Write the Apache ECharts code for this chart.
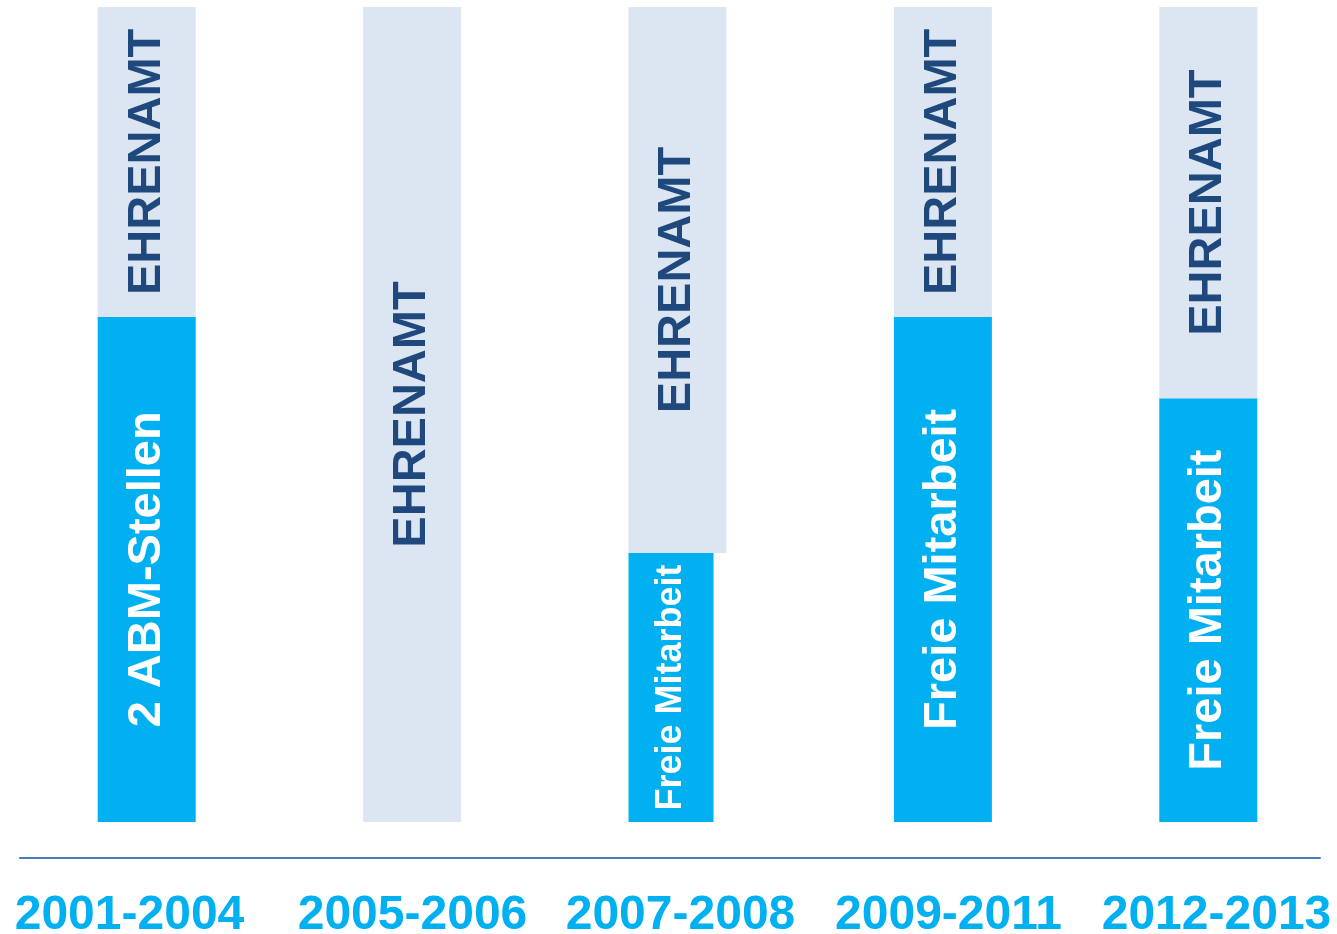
<!DOCTYPE html>
<html>
<head>
<meta charset="utf-8">
<script src="https://cdn.jsdelivr.net/npm/echarts@6/dist/echarts.min.js"></script>
<style>
  html, body { margin: 0; padding: 0; background: #fff; }
  #chart { width: 1337px; height: 934px; }
</style>
</head>
<body>
<div id="chart"></div>
<script>
// Zeiträume
const categories = ["2001-2004", "2005-2006", "2007-2008", "2009-2011", "2012-2013"];
// Anteil bezahlte Arbeit (unten) und Ehrenamt (oben), in %
const lowerValues = [62, 0, 33, 62, 52];
const upperValues = [38, 100, 67, 38, 48];
const lowerLabels = ["2 ABM-Stellen", "", "Freie Mitarbeit", "Freie Mitarbeit", "Freie Mitarbeit"];
const upperLabels = ["EHRENAMT", "EHRENAMT", "EHRENAMT", "EHRENAMT", "EHRENAMT"];
// in diesem Zeitraum ist die untere Säule schmaler
const narrowIndex = 2;

const FONT = "'Liberation Sans', Arial, sans-serif";
const BLUE = "#00b0f0";
const LIGHT = "#dce6f2";
const DARK = "#1f497d";

// kleine Verschiebung der Jahreszahlen wie im Original
const labelPadding = [[0, 12, 0, 0], [0, 0, 0, 12], [0, 0, 0, 6], [0, 0, 0, 0], [0, 6, 0, 0]];

let myChart = echarts.init(document.getElementById("chart"));

let option = {
  animation: false,
  grid: [
    // Säulen
    { left: 14, width: 1327, top: 7, bottom: 112, outerBoundsMode: "none" },
    // Achsenlinie
    { left: 20, right: 17, top: 7, bottom: 76, outerBoundsMode: "none" },
    // Beschriftung
    { left: 0, width: 1355, top: 7, bottom: 72, outerBoundsMode: "none", containLabel: false }
  ],
  xAxis: [
    {
      gridIndex: 0,
      type: "category",
      data: categories,
      axisLine: { show: false },
      axisTick: { show: false },
      axisLabel: { show: false }
    },
    {
      gridIndex: 1,
      type: "category",
      data: categories,
      axisLine: { show: true, lineStyle: { color: "#4a7ebb", width: 2 } },
      axisTick: { show: false },
      axisLabel: { show: false }
    },
    {
      gridIndex: 2,
      type: "category",
      data: categories.map((c, i) => ({ value: c, textStyle: { padding: labelPadding[i] } })),
      axisLine: { show: false },
      axisTick: { show: false },
      axisLabel: {
        margin: 30,
        color: BLUE,
        fontFamily: FONT,
        fontWeight: "bold",
        fontSize: 48,
        interval: 0
      }
    }
  ],
  yAxis: [
    { gridIndex: 0, type: "value", min: 0, max: 100, show: false },
    { gridIndex: 1, type: "value", min: 0, max: 100, show: false },
    { gridIndex: 2, type: "value", min: 0, max: 100, show: false }
  ],
  series: [
    {
      name: "schmal",
      type: "bar",
      barWidth: 85,
      barGap: "-100%",
      z: 3,
      data: lowerValues.map((v, i) => (i === narrowIndex ? v : "-")),
      itemStyle: { color: BLUE },
      label: {
        show: true,
        position: "inside",
        rotate: 90,
        color: "#fff",
        fontFamily: FONT,
        fontWeight: "bold",
        fontSize: 36,
        formatter: (p) => lowerLabels[p.dataIndex]
      }
    },
    {
      name: "unten",
      type: "bar",
      stack: "a",
      barWidth: 98,
      barGap: "-100%",
      data: lowerValues.map((v, i) =>
        i === narrowIndex
          ? { value: v, itemStyle: { color: "rgba(0,0,0,0)" }, label: { show: false } }
          : v
      ),
      itemStyle: { color: BLUE },
      label: {
        show: true,
        position: "inside",
        rotate: 90,
        color: "#fff",
        fontFamily: FONT,
        fontWeight: "bold",
        fontSize: 47,
        formatter: (p) => lowerLabels[p.dataIndex]
      }
    },
    {
      name: "oben",
      type: "bar",
      stack: "a",
      barWidth: 98,
      barGap: "-100%",
      data: upperValues,
      itemStyle: { color: LIGHT },
      label: {
        show: true,
        position: "inside",
        rotate: 90,
        color: DARK,
        fontFamily: FONT,
        fontWeight: "bold",
        fontSize: 47,
        formatter: (p) => upperLabels[p.dataIndex]
      }
    }
  ]
};

myChart.setOption(option, true);
window.addEventListener("resize", () => {
  myChart.resize();
});
</script>
</body>
</html>
